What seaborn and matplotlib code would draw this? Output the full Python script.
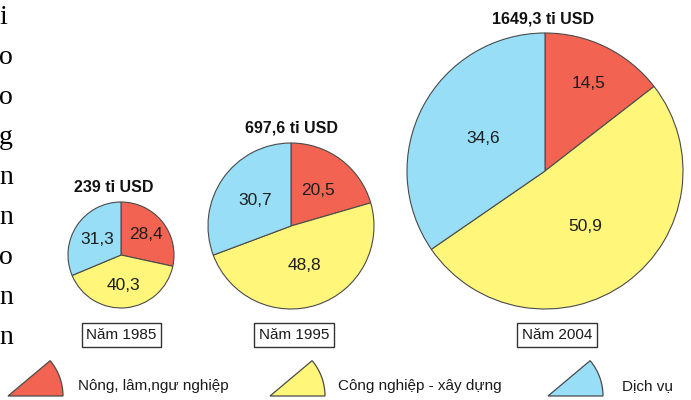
import matplotlib
matplotlib.use("Agg")
import matplotlib.pyplot as plt
from matplotlib.patches import Wedge
import numpy as np
import seaborn as sns

# ---------------- data ----------------
years = ["Năm 1985", "Năm 1995", "Năm 2004"]
totals = ["239 tỉ USD", "697,6 tỉ USD", "1649,3 tỉ USD"]
sectors = ["Nông, lâm,ngư nghiệp", "Công nghiệp - xây dựng", "Dịch vụ"]
share_1985 = [28.4, 40.3, 31.3]
share_1995 = [20.5, 48.8, 30.7]
share_2004 = [14.5, 50.9, 34.6]
side_letters = ["i", "o", "o", "g", "n", "n", "o", "n", "n"]

# ---------------- style ----------------
sns.set_theme(style="white")
plt.rcParams["font.family"] = ["Liberation Sans", "DejaVu Sans"]
colors = sns.color_palette(["#F26451", "#FFF67A", "#98DEF6"])
edge = "#4a4a4a"

W, H = 691, 400
fig = plt.figure(figsize=(W / 100, H / 100), dpi=100)
ax = fig.add_axes([0, 0, 1, 1])


def Y(y):
    return H - y


# layout (pixels): center x, center y, radius, title pos, year-box pos, label radial fractions
layout = [
    dict(cx=121, cy=255, r=53, tx=114, ty=187, bx=121.5, by=335, lf=[0.61, 0.57, 0.54]),
    dict(cx=291, cy=226, r=83, tx=292, ty=128, bx=294, by=335, lf=[0.54, 0.50, 0.53]),
    dict(cx=545, cy=171, r=138, tx=543, ty=19, bx=557, by=335, lf=[0.71, 0.50, 0.51]),
]
shares = [share_1985, share_1995, share_2004]

for vals, lay, yr, tot in zip(shares, layout, years, totals):
    wedges, _ = ax.pie(vals, colors=colors, startangle=90, counterclock=False,
                       center=(lay["cx"], Y(lay["cy"])), radius=lay["r"],
                       frame=True,
                       wedgeprops=dict(edgecolor=edge, linewidth=0.8))
    for w, v, f in zip(wedges, vals, lay["lf"]):
        ang = np.deg2rad((w.theta1 + w.theta2) / 2)
        x = lay["cx"] + f * lay["r"] * np.cos(ang)
        y = Y(lay["cy"]) + f * lay["r"] * np.sin(ang)
        ax.text(x, y, f"{v:.1f}".replace(".", ","), ha="center", va="center",
                fontsize=12.5, color="#1e1e1e")
    ax.text(lay["tx"], Y(lay["ty"]), tot, ha="center", va="center",
            fontsize=11.5, fontweight="bold", color="#111111")
    ax.text(lay["bx"], Y(lay["by"]), yr, ha="center", va="center",
            fontsize=11, color="#1a1a1a",
            bbox=dict(boxstyle="square,pad=0.3", facecolor="white",
                      edgecolor="#333333", linewidth=1))

# legend
leg_wedge_x = [8, 270, 548]
leg_text_x = [78, 338, 622]
for c, lab, wx, tx in zip(colors, sectors, leg_wedge_x, leg_text_x):
    ax.add_patch(Wedge((wx, Y(396)), 55, 0, 40, facecolor=c,
                       edgecolor=edge, linewidth=0.9))
    ax.text(tx, Y(386), lab, ha="left", va="center", fontsize=11,
            color="#1a1a1a")

# cropped text from the page on the left edge
for i, ch in enumerate(side_letters):
    ax.text(-1, Y(24 + 40 * i), ch, ha="left", va="baseline",
            fontsize=20, family=["Liberation Serif", "DejaVu Serif"],
            color="#000000")

ax.set_xlim(0, W)
ax.set_ylim(0, H)
ax.set_aspect("equal")
ax.axis("off")

fig.savefig("out.png", dpi=100)
